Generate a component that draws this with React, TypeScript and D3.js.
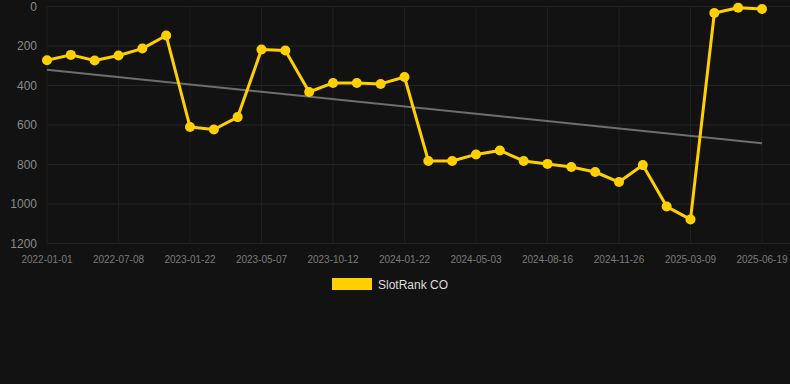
import React from "react";
import * as d3 from "d3";

const dates = [
  "2022-01-01", "2022-03-01", "2022-05-01", "2022-07-08", "2022-09-01", "2022-11-01",
  "2023-01-22", "2023-02-25", "2023-04-01", "2023-05-07", "2023-07-01", "2023-08-25",
  "2023-10-12", "2023-11-15", "2023-12-20", "2024-01-22", "2024-02-25", "2024-03-30",
  "2024-05-03", "2024-06-05", "2024-07-10", "2024-08-16", "2024-09-20", "2024-10-25",
  "2024-11-26", "2024-12-30", "2025-02-03", "2025-03-09", "2025-04-10", "2025-05-15",
  "2025-06-19",
];
const ranks = [
  272, 245, 273, 248, 213, 147, 610, 623, 560, 218, 223, 433, 387, 387, 392, 357,
  782, 782, 749, 729, 782, 797, 813, 838, 889, 803, 1013, 1078, 33, 6, 13,
];
const yTicks = [0, 200, 400, 600, 800, 1000, 1200];
const seriesName = "SlotRank CO";

export default function App() {
  const W = 790, H = 384;
  const x = d3.scalePoint<string>().domain(dates).range([47, 762]);
  const y = d3.scaleLinear().domain([0, 1200]).range([6.5, 243.5]);
  const xTickLabels = dates.filter((_, i) => i % 3 === 0);

  // linear regression trend
  const n = ranks.length;
  const xs = ranks.map((_, i) => i);
  const mx = d3.mean(xs)!;
  const my = d3.mean(ranks)!;
  const slope = d3.sum(xs, (xi, i) => (xi - mx) * (ranks[i] - my)) / d3.sum(xs, (xi) => (xi - mx) ** 2);
  const intercept = my - slope * mx;
  const trendStart = intercept;
  const trendEnd = intercept + slope * (n - 1);

  const line = d3
    .line<number>()
    .x((_, i) => x(dates[i])!)
    .y((d) => y(d));

  return (
    <svg
      width={W}
      height={H}
      style={{ position: "absolute", left: 0, top: 0, background: "#121212" }}
      fontFamily="Liberation Sans, Arial, sans-serif"
    >
      <rect x={0} y={0} width={W} height={H} fill="#121212" />
      {yTicks.map((t) => (
        <g key={t}>
          <line x1={47} x2={790} y1={y(t)} y2={y(t)} stroke="#232323" strokeWidth={1} />
          <text x={37} y={y(t)} dy="0.35em" textAnchor="end" fontSize={12} fill="#8a8a8a">
            {t}
          </text>
        </g>
      ))}
      {xTickLabels.map((d) => (
        <g key={d}>
          <line x1={x(d)} x2={x(d)} y1={6.5} y2={243.5} stroke="#1f1f1f" strokeWidth={1} />
          <text x={x(d)} y={259} dy="0.35em" textAnchor="middle" fontSize={10} fill="#7a7a7a">
            {d}
          </text>
        </g>
      ))}
      <line
        x1={x(dates[0])}
        x2={x(dates[n - 1])}
        y1={y(trendStart)}
        y2={y(trendEnd)}
        stroke="#6e6e6e"
        strokeWidth={2}
      />
      <path d={line(ranks)!} fill="none" stroke="#FFD000" strokeWidth={3} strokeLinejoin="round" />
      {ranks.map((v, i) => (
        <circle key={i} cx={x(dates[i])} cy={y(v)} r={5} fill="#FFD000" />
      ))}
      <rect x={332} y={278} width={40} height={12} fill="#FFD000" />
      <text x={378} y={284.5} dy="0.35em" fontSize={12} fill="#dddddd">
        {seriesName}
      </text>
    </svg>
  );
}
